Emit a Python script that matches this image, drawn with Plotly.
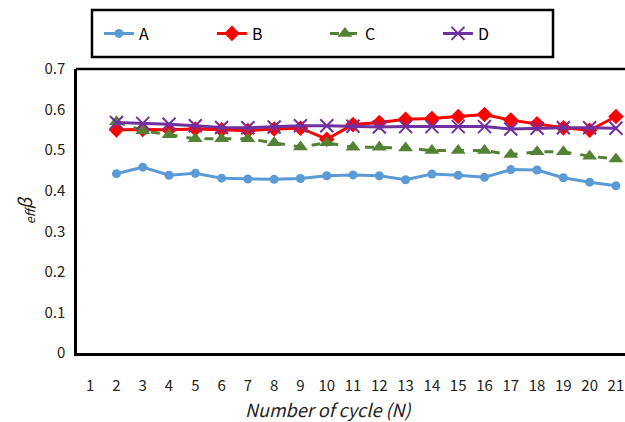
import plotly.graph_objects as go

cycles = list(range(2, 22))
x_ticks = list(range(1, 22))
y_ticks = [0, 0.1, 0.2, 0.3, 0.4, 0.5, 0.6, 0.7]
y_tick_text = ["0", "0.1", "0.2", "0.3", "0.4", "0.5", "0.6", "0.7"]

series_A = [0.442, 0.458, 0.438, 0.443, 0.431, 0.429, 0.428, 0.430, 0.437, 0.439,
            0.437, 0.427, 0.441, 0.438, 0.433, 0.452, 0.451, 0.432, 0.421, 0.412]
series_B = [0.550, 0.551, 0.550, 0.552, 0.550, 0.548, 0.552, 0.554, 0.527, 0.563,
            0.568, 0.576, 0.578, 0.583, 0.588, 0.574, 0.565, 0.555, 0.549, 0.583]
series_C = [0.570, 0.548, 0.538, 0.528, 0.528, 0.528, 0.518, 0.508, 0.518, 0.507,
            0.507, 0.505, 0.499, 0.499, 0.499, 0.489, 0.496, 0.496, 0.485, 0.478]
series_D = [0.568, 0.566, 0.564, 0.560, 0.556, 0.555, 0.557, 0.560, 0.560, 0.559,
            0.557, 0.558, 0.558, 0.558, 0.558, 0.552, 0.554, 0.555, 0.555, 0.554]

fig = go.Figure()
fig.add_trace(go.Scatter(x=cycles, y=series_A, name="A", mode="lines+markers",
                         line=dict(color="#5B9BD5", width=3),
                         marker=dict(symbol="circle", size=9, color="#5B9BD5")))
fig.add_trace(go.Scatter(x=cycles, y=series_B, name="B", mode="lines+markers",
                         line=dict(color="#FF0000", width=3),
                         marker=dict(symbol="diamond", size=12, color="#FF0000")))
fig.add_trace(go.Scatter(x=cycles, y=series_C, name="C", mode="lines+markers",
                         line=dict(color="#548235", width=3, dash="dash"),
                         marker=dict(symbol="triangle-up", size=13, color="#548235")))
fig.add_trace(go.Scatter(x=cycles, y=series_D, name="D", mode="lines+markers",
                         line=dict(color="#7030A0", width=3),
                         marker=dict(symbol="x-thin", size=13, color="#7030A0",
                                     line=dict(color="#7030A0", width=2))))

font_family = "Noto Sans CJK KR, Open Sans, sans-serif"

# Plot area (77..640 px) runs past the 625px window, as in the reference,
# whose right frame edge lies outside the picture.
fig.update_layout(
    width=640, height=422,
    margin=dict(l=77, r=0, t=69, b=69),
    paper_bgcolor="white", plot_bgcolor="white",
    font=dict(family=font_family, size=15, color="#222"),
    showlegend=True,
    legend=dict(orientation="h", x=0.039, y=1.125, xanchor="left", yanchor="middle",
                borderwidth=0, bgcolor="rgba(0,0,0,0)",
                font=dict(size=16, color="black"),
                entrywidth=68, entrywidthmode="pixels"),
    shapes=[
        dict(type="rect", xref="paper", yref="paper",
             x0=0.0266, x1=0.8455, y0=1.0423, y1=1.2077,
             line=dict(color="black", width=2.5), fillcolor="rgba(0,0,0,0)"),
        dict(type="line", xref="paper", yref="paper", x0=-0.002, x1=1.0, y0=1.0, y1=1.0,
             line=dict(color="black", width=2.5)),
    ],
    annotations=[dict(text="<i>Number of cycle (N)</i>", xref="paper", yref="paper",
                      x=0.4476, y=-0.197, xanchor="center", yanchor="middle",
                      showarrow=False, font=dict(size=18, color="#222"))],
    xaxis=dict(range=[0.5, 21.915], tickmode="array", tickvals=x_ticks,
               ticktext=[str(v) for v in x_ticks], showgrid=False, zeroline=False,
               showline=True, linecolor="black", linewidth=2.5, mirror=False,
               ticks="", ticklabelstandoff=17, automargin=False),
    yaxis=dict(range=[0, 0.7], tickmode="array", tickvals=y_ticks, ticktext=y_tick_text,
               showgrid=False, zeroline=False, showline=True, linecolor="black",
               linewidth=2.5, ticks="", ticklabelstandoff=6, automargin=False, mirror=False,
               title=dict(text="<sub><i>eff</i></sub><i>β</i>", font=dict(size=18, color="#222"),
                          standoff=8)),
)

fig.write_html(
    "out.html", config={"displayModeBar": False},
    post_script=("document.body.style.margin='0px';document.body.style.overflow='hidden';"
                 "var gd=document.getElementById('{plot_id}');"
                 "gd.style.width='625px';gd.style.overflow='hidden';"))
